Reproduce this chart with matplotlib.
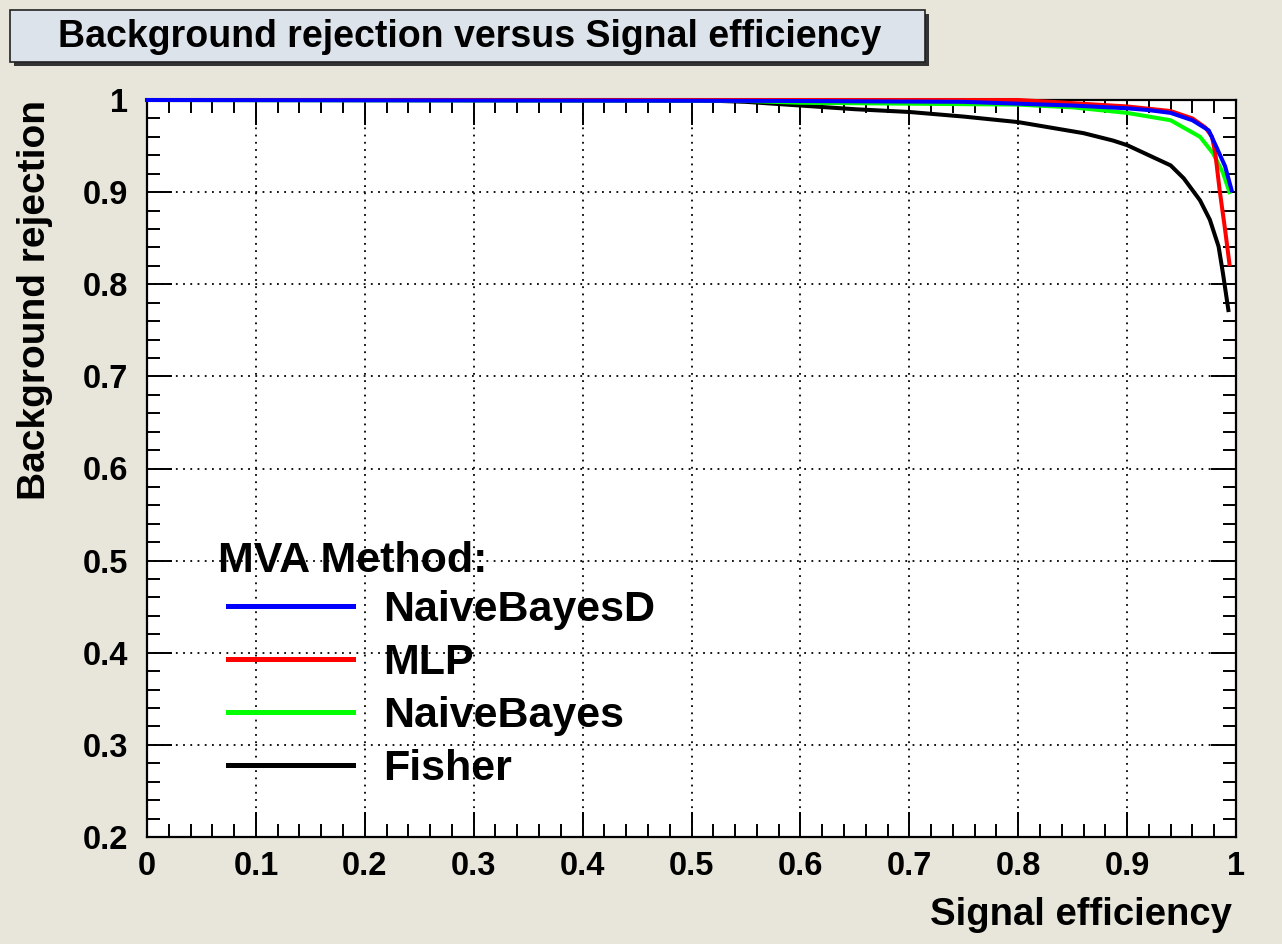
import numpy as np
import matplotlib.pyplot as plt
from matplotlib.patches import Rectangle
from matplotlib.ticker import MultipleLocator

plt.rcParams['font.family'] = ['Liberation Sans', 'DejaVu Sans']
plt.rcParams['font.weight'] = 'bold'

# ROC curves
nbd_x = [0.0, 0.58, 0.75, 0.80, 0.85, 0.90, 0.92, 0.94, 0.96, 0.975, 0.982, 0.99, 0.996]
nbd_y = [1.0, 0.999, 0.998, 0.996, 0.994, 0.991, 0.989, 0.986, 0.978, 0.967, 0.949, 0.928, 0.902]

mlp_x = [0.0, 0.80, 0.83, 0.90, 0.94, 0.96, 0.972, 0.978, 0.981, 0.985, 0.99, 0.994]
mlp_y = [1.0, 1.0, 0.998, 0.993, 0.988, 0.980, 0.970, 0.960, 0.942, 0.902, 0.859, 0.822]

nb_x = [0.0, 0.55, 0.60, 0.70, 0.80, 0.85, 0.90, 0.94, 0.967, 0.979, 0.988, 0.994]
nb_y = [1.0, 0.999, 0.997, 0.996, 0.995, 0.992, 0.986, 0.978, 0.960, 0.942, 0.921, 0.900]

fisher_x = [0.0, 0.50, 0.55, 0.60, 0.65, 0.70, 0.75, 0.80, 0.83, 0.86, 0.887, 0.90,
            0.92, 0.94, 0.952, 0.967, 0.976, 0.984, 0.988, 0.993]
fisher_y = [1.0, 1.0, 0.998, 0.994, 0.990, 0.987, 0.982, 0.976, 0.970, 0.964, 0.956, 0.951,
            0.940, 0.929, 0.915, 0.891, 0.870, 0.841, 0.812, 0.772]

x_ticks = [0, 0.1, 0.2, 0.3, 0.4, 0.5, 0.6, 0.7, 0.8, 0.9, 1]
x_ticklabels = ['0', '0.1', '0.2', '0.3', '0.4', '0.5', '0.6', '0.7', '0.8', '0.9', '1']
y_ticks = [0.2, 0.3, 0.4, 0.5, 0.6, 0.7, 0.8, 0.9, 1]
y_ticklabels = ['0.2', '0.3', '0.4', '0.5', '0.6', '0.7', '0.8', '0.9', '1']

bg = '#e8e6da'
W, H = 1282, 944
AX_L, AX_R, AX_T, AX_B = 147, 1236, 100, 837
AW, AH = AX_R - AX_L, AX_B - AX_T
fig = plt.figure(figsize=(W / 100, H / 100), dpi=100, facecolor=bg)
ax = fig.add_axes([AX_L / W, 1 - AX_B / H, AW / W, AH / H])
ax.set_facecolor('white')

lw = 2.9
ax.plot(fisher_x, fisher_y, color='black', lw=lw, label='Fisher', clip_on=False, zorder=5)
ax.plot(nb_x, nb_y, color='#00ff00', lw=lw, label='NaiveBayes', clip_on=False, zorder=6)
ax.plot(mlp_x, mlp_y, color='#ff0000', lw=lw, label='MLP', clip_on=False, zorder=7)
ax.plot(nbd_x, nbd_y, color='#0000ff', lw=lw, label='NaiveBayesD', clip_on=False, zorder=8)

ax.set_xlim(0, 1)
ax.set_ylim(0.2, 1)
ax.set_xticks(x_ticks)
ax.set_xticklabels(x_ticklabels)
ax.set_yticks(y_ticks)
ax.set_yticklabels(y_ticklabels)
ax.xaxis.set_minor_locator(MultipleLocator(0.02))
ax.yaxis.set_minor_locator(MultipleLocator(0.02))

ax.tick_params(which='both', direction='in', top=True, right=True, width=1.4, color='black',
               labelsize=23.5, labelcolor='black')
ax.tick_params(which='major', length=18)
ax.tick_params(which='minor', length=9.5)
ax.tick_params(axis='x', pad=10)
ax.tick_params(axis='y', pad=13.5)
for s in ax.spines.values():
    s.set_linewidth(1.6)
ax.grid(True, which='major', color='black', linestyle=(0, (1, 3)), lw=1.3)

ax.set_xlabel('Signal efficiency', fontsize=27.5, fontweight='bold', ha='right', va='center')
ax.xaxis.set_label_coords(1.0 - 4 / AW, -(915 - AX_B) / AH)
ax.set_ylabel('Background rejection', fontsize=28, fontweight='bold', ha='right', va='center')
ax.yaxis.set_label_coords(-(AX_L - 35) / AW, 1.0)

handles, labels = ax.get_legend_handles_labels()
order = [3, 2, 1, 0]
ax.text((218 - AX_L) / AW, 1 - (561 - AX_T) / AH, 'MVA Method:', transform=ax.transAxes,
        fontsize=31, fontweight='bold', ha='left', va='center', zorder=10)
leg = ax.legend([handles[i] for i in order], [labels[i] for i in order],
                loc='upper left',
                bbox_to_anchor=((228 - AX_L) / AW, 1 - (590 - AX_T) / AH),
                frameon=False, fontsize=31,
                handlelength=2.9, handletextpad=0.7, labelspacing=0.30, borderpad=0,
                borderaxespad=0)
leg.set_zorder(10)
for line in leg.get_lines():
    line.set_linewidth(3.6)

# title box with ROOT style shadow
fig.patches.append(Rectangle((14 / W, 1 - 66 / H), 915 / W, 52 / H, transform=fig.transFigure,
                             facecolor='#333333', edgecolor='none', zorder=0))
fig.patches.append(Rectangle((10 / W, 1 - 62 / H), 915 / W, 52 / H, transform=fig.transFigure,
                             facecolor='#dde3ea', edgecolor='#222222', lw=1.2, zorder=1))
fig.text(470 / W, 1 - 37 / H, 'Background rejection versus Signal efficiency',
         fontsize=27, fontweight='bold', ha='center', va='center')

fig.savefig('out.png', dpi=100, facecolor=bg)
